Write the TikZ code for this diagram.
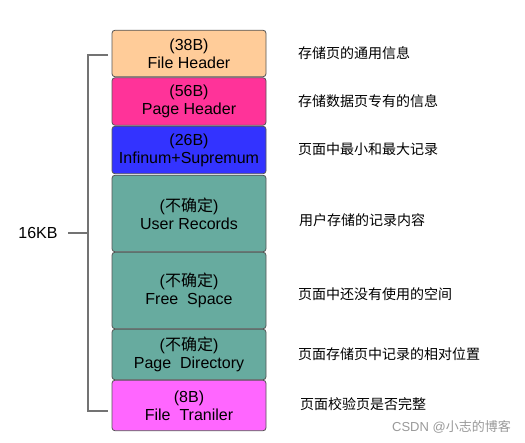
\documentclass[tikz,border=0pt]{standalone}
\usepackage{fontspec}
\setmainfont{Liberation Sans}
\newfontfamily\cjk{Noto Sans CJK SC}
\definecolor{cfh}{HTML}{FFCC99}
\definecolor{cph}{HTML}{FF3399}
\definecolor{cis}{HTML}{3333FF}
\definecolor{cur}{HTML}{67AB9F}
\definecolor{cft}{HTML}{FF66FF}
\definecolor{cbd}{HTML}{555555}
\begin{document}
\begin{tikzpicture}[x=1pt,y=-1pt,
  blk/.style={draw=cbd, line width=0.8pt, rounded corners=3pt, minimum width=154pt,
    align=center, inner sep=0pt, font=\fontsize{16}{18}\selectfont},
  desc/.style={anchor=west, inner sep=0pt, font=\cjk\fontsize{14}{16}\selectfont},
  brk/.style={draw=black!55, line width=1.2pt}]
\useasboundingbox (0,0) rectangle (525,443);
\node[blk, fill=cfh, minimum height=46.5pt] (b1) at (189,53.5) {(38B)\\File Header};
\node[blk, fill=cph, minimum height=47.5pt] (b2) at (189,101.5) {(56B)\\Page Header};
\node[blk, fill=cis, minimum height=47.5pt] (b3) at (189,150) {(26B)\\Infinum+Supremum};
\node[blk, fill=cur, minimum height=76.5pt] (b4) at (189,213.5) {({\cjk 不确定})\\User Records};
\node[blk, fill=cur, minimum height=76.5pt] (b5) at (189,290.5) {({\cjk 不确定})\\Free~ Space};
\node[blk, fill=cur, minimum height=50.5pt] (b6) at (189,354.5) {({\cjk 不确定})\\Page~ Directory};
\node[blk, fill=cft, minimum height=50.5pt] (b7) at (189,405.5) {(8B)\\File~ Traniler};

\node[desc] (d1) at (298,53) {存储页的通用信息};
\node[desc] (d2) at (298,101) {存储数据页专有的信息};
\node[desc] (d3) at (298,149) {页面中最小和最大记录};
\node[desc] (d4) at (299,220) {用户存储的记录内容};
\node[desc] (d5) at (298,294) {页面中还没有使用的空间};
\node[desc] (d6) at (298,354) {页面存储页中记录的相对位置};
\node[desc] (d7) at (300,404) {页面校验页是否完整};

\coordinate (bt) at (108,55);
\coordinate (bb) at (108,411);
\coordinate (bm) at (88,233);
\coordinate (tk) at (68,233);
\node[inner sep=0pt, font=\fontsize{16}{18}\selectfont] (kb) at (38,233) {16KB};
\draw[brk] (bt) -- (bt -| bm) -- (bb -| bm) -- (bb);
\draw[brk] (bm) -- (tk);

\node[anchor=east, inner sep=0pt, text=black!40, font=\fontsize{13}{14}\selectfont] (wm) at (511,427) {CSDN @{\cjk 小志的博客}};
\end{tikzpicture}
\end{document}
